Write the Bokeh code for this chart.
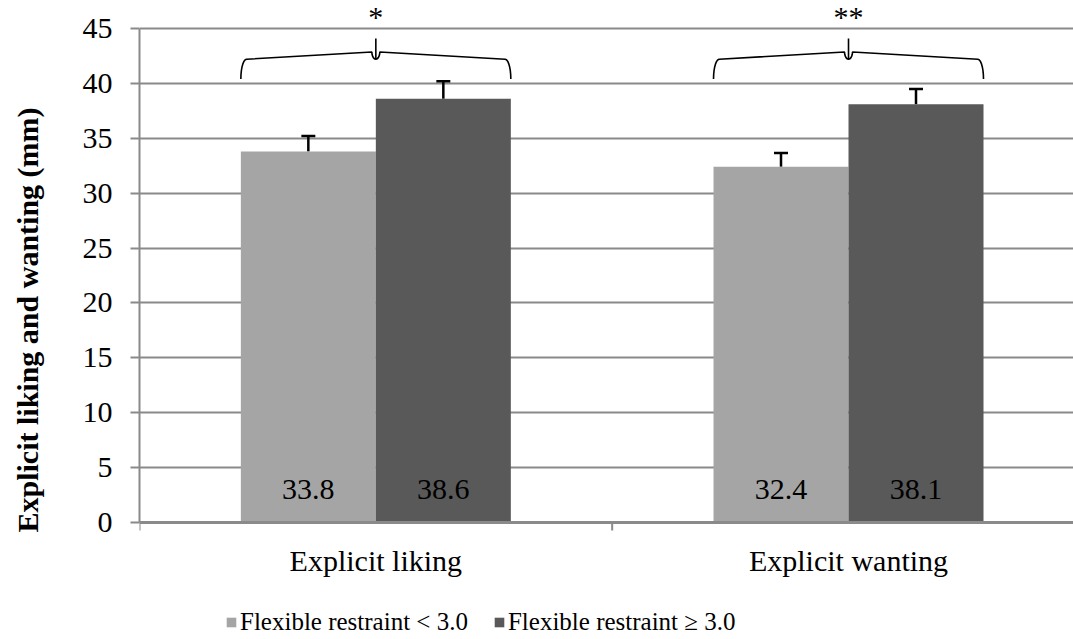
import numpy as np
from bokeh.plotting import figure
from bokeh.models import (ColumnDataSource, FixedTicker, Legend, LegendItem,
                          Range1d, Whisker)
from bokeh.core.properties import value
from bokeh.embed import file_html
from bokeh.resources import INLINE

categories = ["Explicit liking", "Explicit wanting"]
series_names = ["Flexible restraint < 3.0", "Flexible restraint \u2265 3.0"]
low_values = [33.8, 32.4]
high_values = [38.6, 38.1]
low_err = [1.4, 1.25]
high_err = [1.6, 1.4]
significance = ["*", "**"]
y_ticks = [0, 5, 10, 15, 20, 25, 30, 35, 40, 45]

FONT = "Liberation Serif"
FS = "30px"
LIGHT = "#a5a5a5"
DARK = "#595959"
GRID = "#8a8a8a"

PX = 10.978          # pixels per y unit
H = 639
Y0_PX = 522          # pixel row of y = 0
bar_w = 0.2856
centers = np.arange(len(categories)) + 0.5
boundaries = np.arange(len(categories) + 1)
y_top = 45 + 28 / PX
y_bot = -(H - Y0_PX) / PX
x_end = 1.976

p = figure(width=1073, height=H, output_backend="svg", toolbar_location=None,
           x_range=Range1d(0, x_end), y_range=Range1d(y_bot, y_top),
           min_border_left=139, min_border_right=0, min_border_top=0,
           min_border_bottom=0)
p.outline_line_color = None
p.background_fill_color = "white"
p.xaxis.visible = False

# gridlines
p.xgrid.grid_line_color = None
p.ygrid.ticker = FixedTicker(ticks=y_ticks[1:])
p.ygrid.grid_line_color = GRID
p.ygrid.grid_line_width = 2
p.ygrid.level = "underlay"

src_low = ColumnDataSource(dict(x=centers - bar_w / 2, top=low_values,
                                up=np.array(low_values) + np.array(low_err),
                                lbl=[f"{v:.1f}" for v in low_values]))
src_high = ColumnDataSource(dict(x=centers + bar_w / 2, top=high_values,
                                 up=np.array(high_values) + np.array(high_err),
                                 lbl=[f"{v:.1f}" for v in high_values]))

r_low = p.vbar(x="x", top="top", bottom=0, width=bar_w, source=src_low,
               fill_color=LIGHT, line_color=None)
r_high = p.vbar(x="x", top="top", bottom=0, width=bar_w, source=src_high,
                fill_color=DARK, line_color=None)

for src in (src_low, src_high):
    w = Whisker(source=src, base="x", upper="up", lower="top", line_color="black",
                line_width=2.5, dimension="height")
    w.upper_head.size = 14
    w.upper_head.line_width = 2.5
    w.upper_head.line_color = "black"
    w.lower_head = None
    p.add_layout(w)
    p.text(x="x", y=3.0, text="lbl", source=src, text_align="center",
           text_baseline="middle", text_font=value(FONT),
           text_font_size=FS, text_color="black")

# x axis drawn inside the frame
p.segment(x0=[0], y0=[0], x1=[x_end], y1=[0], line_color=GRID, line_width=3)
p.segment(x0=boundaries, y0=[0] * len(boundaries), x1=boundaries,
          y1=[-8 / PX] * len(boundaries), line_color=GRID, line_width=2)
p.text(x=centers, y=[-(560 - Y0_PX) / PX] * len(categories), text=categories,
       text_align="center", text_baseline="middle", text_font=value(FONT),
       text_font_size=FS, text_color="black")

# braces with significance marks
brace_y = 42.2
drop = 1.8
spike = 1.9
for c, sig in zip(centers, significance):
    x0 = c - bar_w
    x1 = c + bar_w
    rx = 0.012
    t = np.linspace(0, np.pi / 2, 8)
    xs, ys = [], []
    xs += list(x0 + rx * (1 - np.cos(t)))
    ys += list(brace_y - drop * (1 - np.sin(t)))
    xs += list(c - rx * 0.7 * np.sin(t[::-1]))
    ys += list(brace_y + spike * (1 - np.cos(t[::-1])) * 0.35)
    xs += [c]
    ys += [brace_y + spike]
    xs += list(c + rx * 0.7 * np.sin(t))
    ys += list(brace_y + spike * (1 - np.cos(t)) * 0.35)
    xs += list(x1 - rx * (1 - np.cos(t[::-1])))
    ys += list(brace_y - drop * (1 - np.sin(t[::-1])))
    p.line(xs, ys, line_color="black", line_width=1.6)
    p.text(x=[float(c)], y=[brace_y + spike + 0.5], text=[sig], text_align="center",
           text_baseline="bottom", text_font=value(FONT),
           text_font_size=FS, text_color="black")

# y axis
p.yaxis.ticker = FixedTicker(ticks=y_ticks)
p.yaxis.bounds = (0, 45)
p.yaxis.axis_line_color = GRID
p.yaxis.axis_line_width = 2
p.yaxis.major_tick_line_color = GRID
p.yaxis.major_tick_line_width = 2
p.yaxis.major_tick_out = 9
p.yaxis.major_tick_in = 0
p.yaxis.minor_tick_line_color = None
p.yaxis.major_label_text_font = FONT
p.yaxis.major_label_text_font_size = FS
p.yaxis.major_label_text_color = "black"
p.yaxis.major_label_standoff = 18
p.yaxis.axis_label = "Explicit liking and wanting (mm)"
p.yaxis.axis_label_text_font = FONT
p.yaxis.axis_label_text_font_style = "bold"
p.yaxis.axis_label_text_font_size = FS
p.yaxis.axis_label_text_color = "black"
p.yaxis.axis_label_standoff = 36

legend = Legend(items=[LegendItem(label=series_names[0], renderers=[r_low]),
                       LegendItem(label=series_names[1], renderers=[r_high])],
                orientation="horizontal", location=(86, 3),
                label_text_font=FONT, label_text_font_size="25px",
                label_text_color="black", glyph_width=12, glyph_height=12,
                label_standoff=3, spacing=25, padding=0, margin=0,
                border_line_color=None, background_fill_alpha=0)
p.add_layout(legend, "center")

open("out.html", "w").write(file_html(p, INLINE))
